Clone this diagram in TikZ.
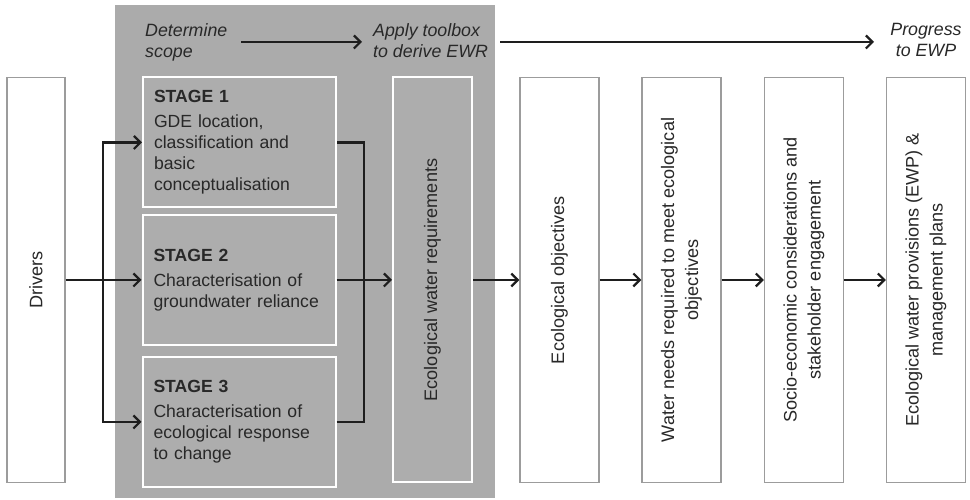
\documentclass[tikz,border=0pt]{standalone}
\usepackage{fontspec}
\setmainfont{Liberation Sans}
\usetikzlibrary{arrows.meta}
\definecolor{bggray}{HTML}{ABABAB}
\definecolor{boxgray}{HTML}{ADADAD}
\definecolor{edgegray}{HTML}{9C9C9C}
\definecolor{ink}{HTML}{1E1E1E}
\definecolor{txt}{HTML}{282828}
\begin{document}
\begin{tikzpicture}[x=1pt,y=1pt,
  every node/.style={font=\fontsize{17.6}{21}\selectfont, text=txt},
  stagebox/.style={draw=white, line width=2pt, fill=boxgray, minimum height=130pt,
    text width=171pt, align=left, inner xsep=11pt, inner ysep=0pt},
  vertbox/.style={draw=edgegray, line width=1.3pt, fill=white, rotate=90,
    minimum width=405pt, minimum height=79pt, align=center, inner sep=0pt,
    font=\fontsize{18.1}{24}\selectfont},
  toplabel/.style={inner sep=0pt, font=\fontsize{17.8}{21}\selectfont\itshape},
  arr/.style={draw=ink, line width=2.2pt, -{Straight Barb[length=6.5pt,width=13pt]}},
  plain/.style={draw=ink, line width=2.2pt}]
\useasboundingbox (0,0) rectangle (970,500);
% grey region
\fill[bggray] (115,2) rectangle (495,495);

% boxes
\node[vertbox, minimum height=58pt] (drv) at (36,220) {Drivers};
\node[stagebox] (s1) at (239.5,357.5) {\textbf{STAGE 1}\\[4pt]GDE location,\\classification and\\basic\\conceptualisation};
\node[stagebox] (s2) at (239,220) {\textbf{STAGE 2}\\[4pt]Characterisation of\\groundwater reliance};
\node[stagebox] (s3) at (239,78) {\textbf{STAGE 3}\\[4pt]Characterisation of\\ecological response\\to change};
\node[vertbox, draw=white, line width=2pt, fill=boxgray] (ewr) at (432.5,220) {Ecological water requirements};
\node[vertbox] (eo) at (559.5,220) {Ecological objectives};
\node[vertbox] (wn) at (681.5,220) {Water needs required to meet ecological\\objectives};
\node[vertbox] (se) at (804,220) {Socio-economic considerations and\\stakeholder engagement};
\node[vertbox] (ep) at (926,220) {Ecological water provisions (EWP) \&\\management plans};

% top labels
\node[toplabel, anchor=north west, align=left] (det) at (145,477) {Determine\\scope};
\node[toplabel, anchor=north west, align=left] (app) at (373,477) {Apply toolbox\\to derive EWR};
\node[toplabel, anchor=north, align=center] (prg) at (926,477) {Progress\\to EWP};
\coordinate (a1s) at (241,458);
\coordinate (a1e) at (362,458);
\coordinate (a2s) at (500,458);
\coordinate (a2e) at (874,458);
\draw[arr] (a1s) -- (a1e);
\draw[arr] (a2s) -- (a2e);

% connectors
\coordinate (jl) at (103,220);
\coordinate (jr) at (364,220);
\draw[arr] (drv.south) -- (s2.west);
\draw[arr] (jl) |- (s1.west);
\draw[arr] (jl) |- (s3.west);
\draw[plain] (s1.east) -| (jr);
\draw[plain] (s3.east) -| (jr);
\draw[arr] (s2.east) -- (ewr.north);
\draw[arr] (ewr.south) -- (eo.north);
\draw[arr] (eo.south) -- (wn.north);
\draw[arr] (wn.south) -- (se.north);
\draw[arr] (se.south) -- (ep.north);
\end{tikzpicture}
\end{document}
